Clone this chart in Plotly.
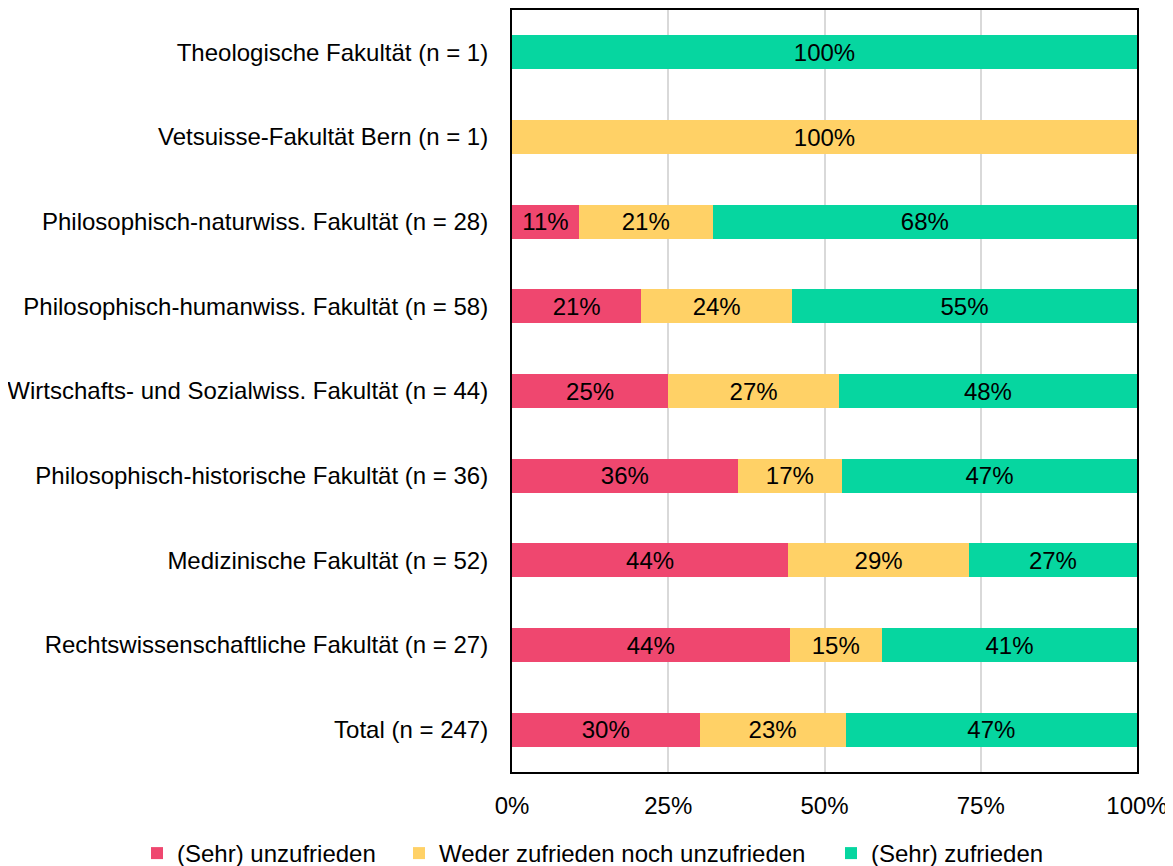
import plotly.graph_objects as go

categories = [
    "Theologische Fakultät (n = 1)",
    "Vetsuisse-Fakultät Bern (n = 1)",
    "Philosophisch-naturwiss. Fakultät (n = 28)",
    "Philosophisch-humanwiss. Fakultät (n = 58)",
    "Wirtschafts- und Sozialwiss. Fakultät (n = 44)",
    "Philosophisch-historische Fakultät (n = 36)",
    "Medizinische Fakultät (n = 52)",
    "Rechtswissenschaftliche Fakultät (n = 27)",
    "Total (n = 247)",
]
unzufrieden = [0, 0, 10.7, 20.7, 25.0, 36.1, 44.2, 44.4, 30.0]
weder = [0, 100, 21.4, 24.1, 27.3, 16.7, 28.9, 14.8, 23.4]
zufrieden = [100, 0, 67.9, 55.2, 47.7, 47.2, 26.9, 40.8, 46.6]

series = [
    ("(Sehr) unzufrieden", unzufrieden, "#EF476F"),
    ("Weder zufrieden noch unzufrieden", weder, "#FFD166"),
    ("(Sehr) zufrieden", zufrieden, "#06D6A0"),
]

FONT = "Liberation Sans, Arial, sans-serif"
W, H = 1165, 858
legend_ids = ["legend", "legend2", "legend3"]
legend_left_px = [129, 391, 823]
legend_y = 1 - 845.5 / H

fig = go.Figure()
for (name, vals, color), lid in zip(series, legend_ids):
    fig.add_trace(go.Bar(
        name=name, y=categories, x=vals, orientation="h",
        marker=dict(color=color, line=dict(width=0)),
        text=[f"{v:.0f}%" if v > 0 else "" for v in vals],
        textposition="inside", insidetextanchor="middle",
        textfont=dict(color="black", size=24, family=FONT),
        constraintext="none",
        width=0.4,
        hoverinfo="skip",
        legend=lid,
    ))

legend_common = dict(
    orientation="h", xref="container", yref="container",
    xanchor="left", yanchor="middle", y=legend_y,
    font=dict(size=24, family=FONT), bgcolor="rgba(0,0,0,0)",
    itemwidth=30,
)
layout_legends = {
    lid: dict(legend_common, x=px / W) for lid, px in zip(legend_ids, legend_left_px)
}

fig.update_layout(
    barmode="stack",
    width=W, height=H,
    margin=dict(l=504, r=36, t=2, b=94, autoexpand=False),
    plot_bgcolor="white", paper_bgcolor="white",
    font=dict(family=FONT, size=24, color="black"),
    showlegend=True,
    xaxis=dict(
        range=[0, 100], tickvals=[0, 25, 50, 75, 100],
        ticktext=["0%", "25%", "50%", "75%", "100%"],
        showgrid=True, gridcolor="#D9D9D9", gridwidth=2,
        showline=True, linecolor="black", linewidth=2, mirror=True,
        zeroline=False, ticks="", ticklabelstandoff=11,
        tickfont=dict(size=24),
    ),
    yaxis=dict(
        autorange="reversed", showgrid=False,
        showline=True, linecolor="black", linewidth=2, mirror=True,
        ticks="", ticklabelstandoff=17, tickfont=dict(size=24),
    ),
    **layout_legends,
)

fig.write_html("out.html")
